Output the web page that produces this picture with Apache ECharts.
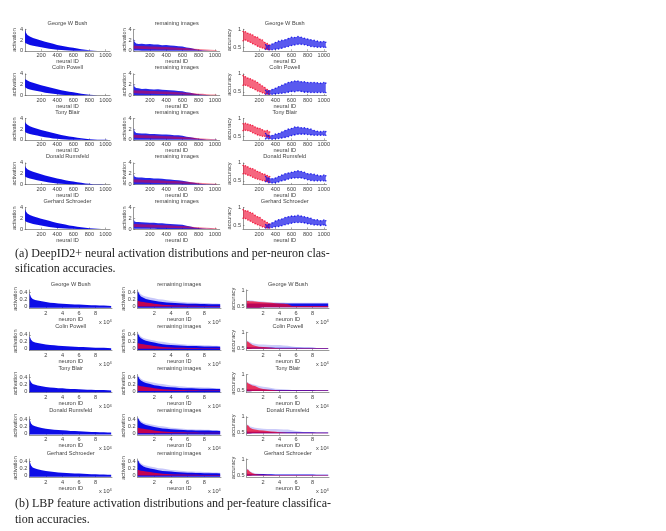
<!DOCTYPE html>
<html>
<head>
<meta charset="utf-8">
<style>
  html, body { margin: 0; padding: 0; background: #fff; }
  #main { width: 666px; height: 531px; }
</style>
<script src="https://cdn.jsdelivr.net/npm/echarts@6/dist/echarts.min.js"></script>
</head>
<body>
<div id="main"></div>
<script>
var people = ["George W Bush", "Colin Powell", "Tony Blair", "Donald Rumsfeld", "Gerhard Schroeder"];

// (a) DeepID2+, x samples in neural ID
var idsA = [1, 10, 30, 60, 100, 150, 200, 250, 300, 350, 400, 450, 500, 550, 600, 650, 700, 750, 800, 850, 900, 950, 1000, 1024];
var accRedIds = [1, 30, 60, 90, 120, 150, 180, 210, 240, 270, 300, 330];
var accBlueIds = [280, 320, 360, 400, 440, 480, 520, 560, 600, 640, 680, 720, 760, 800, 840, 880, 920, 960, 1000, 1024];

// column 1, activation of the person's own images
var actLo = [1.5, 1.4, 1.25, 1.1, 0.95, 0.8, 0.65, 0.5, 0.38, 0.28, 0.2, 0.13, 0.08, 0.05, 0.03, 0.02, 0.01, 0, 0, 0, 0, 0, 0, 0];
var actHiBush = [4, 3.4, 2.95, 2.65, 2.4, 2.15, 1.9, 1.7, 1.5, 1.3, 1.1, 0.95, 0.8, 0.66, 0.55, 0.42, 0.3, 0.2, 0.12, 0.06, 0.03, 0.02, 0.01, 0.01];
var actHiPowell = [3, 2.95, 2.75, 2.55, 2.35, 2.1, 1.9, 1.7, 1.52, 1.32, 1.12, 0.96, 0.82, 0.68, 0.56, 0.44, 0.32, 0.22, 0.13, 0.07, 0.03, 0.02, 0.01, 0.01];
var actHiBlair = [3.4, 3.1, 2.8, 2.55, 2.32, 2.08, 1.86, 1.66, 1.46, 1.27, 1.08, 0.92, 0.78, 0.64, 0.53, 0.41, 0.29, 0.2, 0.12, 0.06, 0.03, 0.02, 0.01, 0.01];
var actHiRumsfeld = [3.5, 3.15, 2.85, 2.6, 2.36, 2.12, 1.9, 1.68, 1.48, 1.3, 1.1, 0.95, 0.8, 0.66, 0.54, 0.42, 0.3, 0.2, 0.12, 0.06, 0.03, 0.02, 0.01, 0.01];
var actHiSchroeder = [3.7, 3.3, 2.9, 2.62, 2.38, 2.14, 1.92, 1.7, 1.52, 1.32, 1.12, 0.97, 0.82, 0.67, 0.56, 0.43, 0.31, 0.21, 0.13, 0.07, 0.03, 0.02, 0.01, 0.01];

// column 2, activation of the remaining images
var restLo = [0.05, 0.05, 0.04, 0.04, 0.03, 0.03, 0.03, 0.03, 0.02, 0.02, 0.02, 0.02, 0.02, 0.02, 0.01, 0.01, 0.01, 0.01, 0.01, 0, 0, 0, 0, 0];
var restRedLo = [0.42, 0.4, 0.38, 0.36, 0.34, 0.32, 0.3, 0.28, 0.26, 0.24, 0.22, 0.2, 0.18, 0.16, 0.14, 0.12, 0.1, 0.08, 0.06, 0.05, 0.03, 0.02, 0.01, 0.01];
var restRedHi = [0.95, 0.95, 0.92, 0.9, 0.88, 0.85, 0.82, 0.8, 0.76, 0.72, 0.7, 0.66, 0.62, 0.58, 0.54, 0.5, 0.44, 0.38, 0.32, 0.28, 0.22, 0.18, 0.14, 0.12];
var restHiBush = [2.3, 1.7, 1.35, 1.25, 1.3, 1.2, 1.25, 1.15, 1.15, 1.05, 1.08, 0.98, 0.95, 0.85, 0.8, 0.62, 0.5, 0.35, 0.2, 0.1, 0.05, 0.03, 0.02, 0.01];
var restHiPowell = [2.2, 1.6, 1.35, 1.3, 1.2, 1.25, 1.15, 1.1, 1.12, 1.02, 1, 0.95, 0.9, 0.82, 0.78, 0.6, 0.48, 0.32, 0.2, 0.1, 0.05, 0.03, 0.02, 0.01];
var restHiBlair = [2.2, 1.6, 1.3, 1.25, 1.2, 1.2, 1.12, 1.1, 1.05, 1.02, 1, 0.95, 0.88, 0.85, 0.75, 0.6, 0.48, 0.35, 0.2, 0.1, 0.05, 0.03, 0.02, 0.01];
var restHiRumsfeld = [1.9, 1.5, 1.35, 1.3, 1.3, 1.22, 1.2, 1.12, 1.1, 1.05, 0.98, 0.9, 0.85, 0.78, 0.7, 0.55, 0.42, 0.3, 0.18, 0.1, 0.05, 0.03, 0.02, 0.01];
var restHiSchroeder = [1.8, 1.4, 1.3, 1.28, 1.25, 1.2, 1.18, 1.15, 1.08, 1.05, 1, 0.95, 0.9, 0.85, 0.78, 0.6, 0.45, 0.3, 0.18, 0.1, 0.05, 0.03, 0.02, 0.01];

// column 3, per-neuron accuracy
var accRedHiBush = [0.94, 0.93, 0.89, 0.87, 0.84, 0.79, 0.78, 0.72, 0.7, 0.63, 0.6, 0.56];
var accRedLoBush = [0.68, 0.7, 0.67, 0.64, 0.6, 0.57, 0.53, 0.5, 0.48, 0.46, 0.44, 0.43];
var accBlueHiBush = [0.57, 0.55, 0.59, 0.63, 0.67, 0.69, 0.71, 0.74, 0.78, 0.77, 0.8, 0.78, 0.75, 0.73, 0.71, 0.69, 0.67, 0.65, 0.66, 0.64];
var accBlueLoBush = [0.44, 0.43, 0.43, 0.44, 0.45, 0.47, 0.5, 0.52, 0.55, 0.56, 0.58, 0.58, 0.57, 0.55, 0.52, 0.51, 0.5, 0.5, 0.5, 0.5];
var accRedHiPowell = [0.95, 0.92, 0.88, 0.86, 0.83, 0.8, 0.76, 0.71, 0.66, 0.62, 0.56, 0.52];
var accRedLoPowell = [0.68, 0.68, 0.66, 0.62, 0.6, 0.56, 0.52, 0.5, 0.47, 0.45, 0.44, 0.43];
var accBlueHiPowell = [0.54, 0.53, 0.56, 0.6, 0.64, 0.68, 0.72, 0.76, 0.78, 0.8, 0.8, 0.78, 0.78, 0.76, 0.76, 0.76, 0.75, 0.74, 0.76, 0.74];
var accBlueLoPowell = [0.43, 0.43, 0.43, 0.44, 0.45, 0.46, 0.47, 0.49, 0.51, 0.5, 0.52, 0.51, 0.49, 0.49, 0.48, 0.48, 0.48, 0.48, 0.48, 0.48];
var accRedHiBlair = [0.85, 0.86, 0.84, 0.82, 0.8, 0.76, 0.73, 0.72, 0.68, 0.65, 0.66, 0.62];
var accRedLoBlair = [0.66, 0.67, 0.66, 0.64, 0.6, 0.57, 0.54, 0.52, 0.5, 0.5, 0.49, 0.47];
var accBlueHiBlair = [0.58, 0.52, 0.52, 0.56, 0.58, 0.62, 0.66, 0.7, 0.72, 0.76, 0.76, 0.74, 0.74, 0.72, 0.7, 0.66, 0.64, 0.63, 0.64, 0.63];
var accBlueLoBlair = [0.43, 0.43, 0.42, 0.43, 0.44, 0.45, 0.47, 0.49, 0.52, 0.54, 0.56, 0.56, 0.56, 0.55, 0.54, 0.53, 0.53, 0.53, 0.53, 0.53];
var accRedHiRumsfeld = [0.93, 0.92, 0.89, 0.85, 0.84, 0.8, 0.76, 0.74, 0.7, 0.68, 0.65, 0.62];
var accRedLoRumsfeld = [0.7, 0.69, 0.66, 0.64, 0.6, 0.57, 0.55, 0.53, 0.51, 0.5, 0.48, 0.47];
var accBlueHiRumsfeld = [0.62, 0.58, 0.56, 0.58, 0.62, 0.66, 0.7, 0.72, 0.74, 0.76, 0.78, 0.76, 0.74, 0.7, 0.7, 0.68, 0.66, 0.64, 0.66, 0.64];
var accBlueLoRumsfeld = [0.48, 0.45, 0.44, 0.45, 0.47, 0.5, 0.52, 0.55, 0.57, 0.58, 0.58, 0.58, 0.56, 0.53, 0.51, 0.5, 0.5, 0.5, 0.5, 0.5];
var accRedHiSchroeder = [0.94, 0.91, 0.9, 0.86, 0.84, 0.78, 0.74, 0.72, 0.66, 0.62, 0.58, 0.54];
var accRedLoSchroeder = [0.7, 0.69, 0.65, 0.62, 0.58, 0.55, 0.52, 0.49, 0.46, 0.45, 0.43, 0.43];
var accBlueHiSchroeder = [0.52, 0.53, 0.57, 0.62, 0.66, 0.68, 0.72, 0.74, 0.76, 0.76, 0.78, 0.76, 0.74, 0.72, 0.7, 0.66, 0.66, 0.63, 0.65, 0.63];
var accBlueLoSchroeder = [0.43, 0.43, 0.44, 0.46, 0.47, 0.49, 0.52, 0.54, 0.56, 0.58, 0.58, 0.58, 0.57, 0.55, 0.53, 0.51, 0.51, 0.5, 0.51, 0.5];

// (b) LBP, x samples in units of 10^4
var idsB = [0.02, 0.1, 0.2, 0.4, 0.7, 1, 1.5, 2, 2.5, 3, 3.5, 4, 4.5, 5, 5.5, 6, 6.5, 7, 7.5, 8, 8.5, 9, 9.5, 9.9];
var lbpLo = [-0.03, -0.03, -0.03, -0.03, -0.03, -0.03, -0.03, -0.03, -0.03, -0.03, -0.03, -0.03, -0.03, -0.03, -0.03, -0.03, -0.03, -0.03, -0.03, -0.03, -0.03, -0.03, -0.03, -0.03];
var lbpHiBush = [0.38, 0.33, 0.27, 0.22, 0.19, 0.175, 0.15, 0.13, 0.11, 0.105, 0.09, 0.085, 0.075, 0.07, 0.06, 0.058, 0.05, 0.048, 0.04, 0.038, 0.032, 0.03, 0.025, 0.02];
var lbpHiPowell = [0.36, 0.32, 0.26, 0.21, 0.185, 0.17, 0.145, 0.125, 0.11, 0.1, 0.09, 0.08, 0.072, 0.065, 0.06, 0.055, 0.05, 0.045, 0.04, 0.035, 0.03, 0.028, 0.024, 0.02];
var lbpHiBlair = [0.34, 0.3, 0.25, 0.2, 0.18, 0.16, 0.14, 0.12, 0.105, 0.095, 0.085, 0.08, 0.07, 0.062, 0.058, 0.052, 0.048, 0.042, 0.038, 0.034, 0.03, 0.028, 0.024, 0.02];
var lbpHiRumsfeld = [0.4, 0.35, 0.28, 0.23, 0.2, 0.18, 0.15, 0.135, 0.12, 0.105, 0.095, 0.088, 0.08, 0.07, 0.065, 0.06, 0.052, 0.048, 0.042, 0.038, 0.034, 0.03, 0.026, 0.022];
var lbpHiSchroeder = [0.42, 0.36, 0.29, 0.23, 0.2, 0.18, 0.15, 0.13, 0.115, 0.105, 0.09, 0.085, 0.078, 0.07, 0.062, 0.058, 0.052, 0.048, 0.042, 0.036, 0.032, 0.03, 0.026, 0.022];

var lbpRestRedLo = [0, 0, 0, 0, 0, 0, 0, 0, 0, 0, 0, 0, 0.002, 0.002, 0.002, 0.002, 0.002, 0.002, 0.002, 0.002, 0.002, 0.002, 0.002, 0.002];
var lbpRestRedHi = [0.16, 0.16, 0.15, 0.14, 0.13, 0.12, 0.1, 0.08, 0.065, 0.055, 0.045, 0.04, 0.035, 0.03, 0.028, 0.026, 0.024, 0.022, 0.02, 0.02, 0.018, 0.018, 0.016, 0.016];
var lbpRestHiBush = [0.42, 0.4, 0.35, 0.29, 0.25, 0.22, 0.19, 0.17, 0.145, 0.13, 0.12, 0.11, 0.1, 0.095, 0.09, 0.085, 0.08, 0.08, 0.075, 0.075, 0.07, 0.07, 0.065, 0.065];
var lbpRestHiPowell = [0.43, 0.4, 0.35, 0.3, 0.26, 0.23, 0.2, 0.18, 0.15, 0.135, 0.12, 0.11, 0.1, 0.095, 0.09, 0.085, 0.08, 0.08, 0.075, 0.07, 0.07, 0.065, 0.065, 0.06];
var lbpRestHiBlair = [0.42, 0.4, 0.35, 0.3, 0.26, 0.23, 0.2, 0.17, 0.15, 0.13, 0.12, 0.11, 0.1, 0.09, 0.085, 0.08, 0.08, 0.075, 0.07, 0.07, 0.065, 0.065, 0.06, 0.06];
var lbpRestHiRumsfeld = [0.44, 0.42, 0.37, 0.31, 0.27, 0.24, 0.21, 0.18, 0.16, 0.14, 0.13, 0.12, 0.11, 0.1, 0.095, 0.09, 0.09, 0.085, 0.085, 0.08, 0.08, 0.075, 0.075, 0.07];
var lbpRestHiSchroeder = [0.44, 0.42, 0.36, 0.31, 0.26, 0.23, 0.2, 0.18, 0.155, 0.135, 0.125, 0.115, 0.1, 0.095, 0.09, 0.085, 0.08, 0.075, 0.075, 0.07, 0.07, 0.065, 0.065, 0.06];
var lbpRestPale = [0.46, 0.44, 0.4, 0.35, 0.31, 0.29, 0.26, 0.24, 0.21, 0.2, 0.18, 0.16, 0.15, 0.14, 0.13, 0.12, 0.12, 0.11, 0.11, 0.1, 0.1, 0.09, 0.09, 0.08];

var lbpAccLoBush = [0.45, 0.45, 0.45, 0.45, 0.45, 0.45, 0.45, 0.46, 0.46, 0.46, 0.46, 0.46, 0.46, 0.46, 0.46, 0.46, 0.46, 0.46, 0.46, 0.46, 0.46, 0.46, 0.46, 0.46];
var lbpAccLo = [0.48, 0.48, 0.48, 0.48, 0.49, 0.49, 0.49, 0.49, 0.49, 0.49, 0.49, 0.49, 0.49, 0.49, 0.49, 0.49, 0.49, 0.49, 0.49, 0.49, 0.49, 0.49, 0.49, 0.49];
var lbpAccBlueHiBush = [0.58, 0.58, 0.58, 0.58, 0.58, 0.58, 0.58, 0.58, 0.58, 0.58, 0.58, 0.58, 0.58, 0.58, 0.58, 0.58, 0.58, 0.58, 0.58, 0.58, 0.58, 0.58, 0.58, 0.58];
var lbpAccBlueHi = [0.54, 0.54, 0.53, 0.53, 0.53, 0.53, 0.53, 0.53, 0.525, 0.525, 0.52, 0.52, 0.52, 0.52, 0.515, 0.515, 0.515, 0.515, 0.515, 0.515, 0.51, 0.51, 0.51, 0.51];
var lbpAccRedHiBush = [0.66, 0.66, 0.66, 0.65, 0.65, 0.64, 0.63, 0.62, 0.61, 0.6, 0.59, 0.58, 0.57, 0.56, 0.5, 0.5, 0.5, 0.5, 0.5, 0.5, 0.5, 0.5, 0.5, 0.5];
var lbpAccRedHiPowell = [0.7, 0.72, 0.7, 0.66, 0.6, 0.58, 0.55, 0.54, 0.53, 0.52, 0.51, 0.5, 0.5, 0.5, 0.5, 0.5, 0.5, 0.5, 0.5, 0.5, 0.5, 0.5, 0.5, 0.5];
var lbpAccRedHiBlair = [0.74, 0.75, 0.72, 0.7, 0.66, 0.64, 0.58, 0.55, 0.53, 0.52, 0.51, 0.5, 0.5, 0.5, 0.5, 0.5, 0.5, 0.5, 0.5, 0.5, 0.5, 0.5, 0.5, 0.5];
var lbpAccRedHiRumsfeld = [0.72, 0.74, 0.72, 0.66, 0.62, 0.6, 0.58, 0.57, 0.56, 0.54, 0.53, 0.52, 0.51, 0.5, 0.5, 0.5, 0.5, 0.5, 0.5, 0.5, 0.5, 0.5, 0.5, 0.5];
var lbpAccRedHiSchroeder = [0.66, 0.68, 0.66, 0.6, 0.56, 0.53, 0.52, 0.51, 0.51, 0.5, 0.5, 0.5, 0.5, 0.5, 0.5, 0.5, 0.5, 0.5, 0.5, 0.5, 0.5, 0.5, 0.5, 0.5];
var lbpAccPaleBush = [0.68, 0.68, 0.68, 0.68, 0.67, 0.66, 0.65, 0.64, 0.63, 0.62, 0.62, 0.61, 0.61, 0.6, 0.6, 0.6, 0.6, 0.6, 0.6, 0.6, 0.6, 0.6, 0.6, 0.6];
var lbpAccPalePowell = [0.72, 0.74, 0.72, 0.7, 0.66, 0.64, 0.62, 0.62, 0.61, 0.6, 0.6, 0.6, 0.59, 0.58, 0.56, 0.54, 0.53, 0.52, 0.52, 0.51, 0.51, 0.51, 0.51, 0.51];
var lbpAccPaleBlair = [0.76, 0.76, 0.74, 0.72, 0.7, 0.68, 0.64, 0.62, 0.6, 0.58, 0.56, 0.55, 0.54, 0.53, 0.52, 0.52, 0.51, 0.51, 0.51, 0.51, 0.51, 0.51, 0.51, 0.51];
var lbpAccPaleRumsfeld = [0.74, 0.76, 0.74, 0.7, 0.68, 0.66, 0.64, 0.63, 0.62, 0.62, 0.62, 0.61, 0.6, 0.6, 0.58, 0.56, 0.54, 0.52, 0.52, 0.51, 0.51, 0.51, 0.51, 0.51];
var lbpAccPaleSchroeder = [0.68, 0.7, 0.68, 0.62, 0.58, 0.56, 0.54, 0.53, 0.52, 0.52, 0.51, 0.51, 0.51, 0.51, 0.51, 0.51, 0.51, 0.51, 0.51, 0.51, 0.51, 0.51, 0.51, 0.51];

var actHi = [actHiBush, actHiPowell, actHiBlair, actHiRumsfeld, actHiSchroeder];
var restHi = [restHiBush, restHiPowell, restHiBlair, restHiRumsfeld, restHiSchroeder];
var accRedHi = [accRedHiBush, accRedHiPowell, accRedHiBlair, accRedHiRumsfeld, accRedHiSchroeder];
var accRedLo = [accRedLoBush, accRedLoPowell, accRedLoBlair, accRedLoRumsfeld, accRedLoSchroeder];
var accBlueHi = [accBlueHiBush, accBlueHiPowell, accBlueHiBlair, accBlueHiRumsfeld, accBlueHiSchroeder];
var accBlueLo = [accBlueLoBush, accBlueLoPowell, accBlueLoBlair, accBlueLoRumsfeld, accBlueLoSchroeder];
var lbpHi = [lbpHiBush, lbpHiPowell, lbpHiBlair, lbpHiRumsfeld, lbpHiSchroeder];
var lbpRestHi = [lbpRestHiBush, lbpRestHiPowell, lbpRestHiBlair, lbpRestHiRumsfeld, lbpRestHiSchroeder];
var lbpAccRedHi = [lbpAccRedHiBush, lbpAccRedHiPowell, lbpAccRedHiBlair, lbpAccRedHiRumsfeld, lbpAccRedHiSchroeder];
var lbpAccPale = [lbpAccPaleBush, lbpAccPalePowell, lbpAccPaleBlair, lbpAccPaleRumsfeld, lbpAccPaleSchroeder];

var BLUE = "#0000e6";
var RED = "#f0002a";
var GREY = "#444";
var SMALL = 5.6;

var grids = [], xAxes = [], yAxes = [], series = [];
var titles = [];

// one filled band between lo and hi, drawn through the grid's own scales
function band(g, xs, lo, hi, color, opacity) {
  series.push({
    type: "custom",
    xAxisIndex: g,
    yAxisIndex: g,
    silent: true,
    data: [[xs[0], lo[0]]],
    encode: { x: 0, y: 1 },
    renderItem: function (params, api) {
      var pts = [];
      for (var i = 0; i < xs.length; i++) pts.push(api.coord([xs[i], hi[i]]));
      for (var j = xs.length - 1; j >= 0; j--) pts.push(api.coord([xs[j], lo[j]]));
      return {
        type: "polygon",
        shape: { points: pts },
        style: { fill: color, opacity: opacity }
      };
    }
  });
}

// dots on the band edges, the accuracy plots are clouds rather than solid fills
function edgeDots(g, xs, lo, hi, color) {
  var pts = [];
  xs.forEach(function (x, i) {
    pts.push([x, hi[i]]);
    pts.push([x, lo[i]]);
  });
  series.push({
    type: "scatter", xAxisIndex: g, yAxisIndex: g, silent: true,
    symbolSize: 1.6, data: pts, itemStyle: { color: color, opacity: 0.8 }
  });
}

function plain(v) { return String(v); }

function addPanel(o) {
  var g = grids.length;
  var smallText = { fontSize: SMALL, color: GREY, fontFamily: "Liberation Sans" };
  grids.push({ left: o.left, top: o.top, width: o.width, height: o.height });
  xAxes.push({
    gridIndex: g, type: "value", min: o.xMin, max: o.xMax,
    name: o.xName, nameLocation: "middle", nameGap: o.xNameGap, nameMoveOverlap: false,
    nameTextStyle: smallText,
    axisLine: { show: true, onZero: false, lineStyle: { color: "#555", width: 0.6 } },
    axisTick: { show: true, inside: true, length: 1.5, customValues: o.xTicks, lineStyle: { color: "#555", width: 0.5 } },
    axisLabel: { show: true, fontSize: SMALL, color: GREY, margin: 2, fontFamily: "Liberation Sans", customValues: o.xTicks, hideOverlap: false, formatter: plain },
    splitLine: { show: false }
  });
  yAxes.push({
    gridIndex: g, type: "value", min: o.yMin, max: o.yMax,
    name: o.yName, nameLocation: "middle", nameGap: o.yNameGap, nameMoveOverlap: false,
    nameTextStyle: smallText,
    axisLine: { show: true, onZero: false, lineStyle: { color: "#555", width: 0.6 } },
    axisTick: { show: true, inside: true, length: 1.5, customValues: o.yTicks, lineStyle: { color: "#555", width: 0.5 } },
    axisLabel: { show: true, fontSize: SMALL, color: GREY, margin: 2, fontFamily: "Liberation Sans", customValues: o.yTicks, hideOverlap: false, formatter: plain },
    splitLine: { show: false }
  });
  titles.push({
    text: o.title, left: o.left + o.width / 2, top: o.top - 9, textAlign: "center", padding: 0,
    textStyle: { fontSize: SMALL, fontWeight: "normal", color: GREY, fontFamily: "Liberation Sans" }
  });
  if (o.exponent) {
    titles.push({
      text: "x 10{s|4}", left: o.left + o.width - 13, top: o.top + o.height + 11, padding: 0,
      textStyle: {
        fontSize: SMALL, fontWeight: "normal", color: GREY, fontFamily: "Liberation Sans",
        rich: { s: { fontSize: 4, color: GREY, verticalAlign: "top", lineHeight: 5, fontFamily: "Liberation Sans" } }
      }
    });
  }
  return g;
}

var ticksA = [200, 400, 600, 800, 1000];
var ticksB = [2, 4, 6, 8];

people.forEach(function (name, r) {
  var top = 29.3 + 44.55 * r;
  var a = { top: top, height: 21.5, xName: "neural ID", xNameGap: 8, xTicks: ticksA, xMin: 0 };

  var g = addPanel(Object.assign({}, a, { left: 25, width: 85, xMax: 1056, yMin: 0, yMax: 4, yTicks: [0, 2, 4], yName: "activation", yNameGap: 7.5, title: name }));
  band(g, idsA, actLo, actHi[r], BLUE, 0.95);

  g = addPanel(Object.assign({}, a, { left: 133.7, width: 86, xMax: 1059, yMin: 0, yMax: 4, yTicks: [0, 2, 4], yName: "activation", yNameGap: 6.5, title: "remaining images" }));
  band(g, idsA, restLo, restHi[r], BLUE, 0.85);
  band(g, idsA, restRedLo, restRedHi, RED, 0.5);

  g = addPanel(Object.assign({}, a, { left: 243, width: 83.5, xMax: 1033, yMin: 0.4, yMax: 1, yTicks: [0.5, 1], yName: "accuracy", yNameGap: 11, title: name }));
  band(g, accRedIds, accRedLo[r], accRedHi[r], RED, 0.6);
  band(g, accBlueIds, accBlueLo[r], accBlueHi[r], BLUE, 0.65);
  edgeDots(g, accRedIds, accRedLo[r], accRedHi[r], RED);
  edgeDots(g, accBlueIds, accBlueLo[r], accBlueHi[r], BLUE);

  var topB = 290 + 42.25 * r;
  var b = { top: topB, height: 18, xName: "neuron ID", xNameGap: 8, xTicks: ticksB, xMin: 0, xMax: 10, exponent: true };

  g = addPanel(Object.assign({}, b, { left: 29.4, width: 82.6, yMin: -0.04, yMax: 0.475, yTicks: [0, 0.2, 0.4], yName: "activation", yNameGap: 11, title: name }));
  band(g, idsB, lbpLo, lbpHi[r], BLUE, 0.95);

  g = addPanel(Object.assign({}, b, { left: 137.6, width: 83.4, yMin: -0.04, yMax: 0.475, yTicks: [0, 0.2, 0.4], yName: "activation", yNameGap: 11, title: "remaining images" }));
  band(g, idsB, lbpLo, lbpRestPale, "#8f8ff5", 0.5);
  band(g, idsB, lbpLo, lbpRestHi[r], BLUE, 0.95);
  band(g, idsB, lbpRestRedLo, lbpRestRedHi, RED, 0.8);

  g = addPanel(Object.assign({}, b, { left: 246.7, width: 82.3, yMin: 0.44, yMax: 1, yTicks: [0.5, 1], yName: "accuracy", yNameGap: 10.5, title: name }));
  var lo = r === 0 ? lbpAccLoBush : lbpAccLo;
  band(g, idsB, lo, lbpAccPale[r], "#a9a9f5", 0.6);
  band(g, idsB, lo, r === 0 ? lbpAccBlueHiBush : lbpAccBlueHi, BLUE, 0.9);
  band(g, idsB, lo, lbpAccRedHi[r], RED, 0.75);
});

var captions = [
  ["(a) DeepID2+ neural activation distributions and per-neuron clas-", 248],
  ["sification accuracies.", 263],
  ["(b) LBP feature activation distributions and per-feature classifica-", 498],
  ["tion accuracies.", 514]
];
captions.forEach(function (c) {
  titles.push({
    text: c[0], left: 15, top: c[1], padding: 0,
    textStyle: { fontSize: 12, fontWeight: "normal", color: "#222", fontFamily: "Liberation Serif" }
  });
});

var chart = echarts.init(document.getElementById("main"), null, { renderer: "canvas" });
chart.setOption({
  animation: false,
  backgroundColor: "#fff",
  title: titles,
  grid: grids,
  xAxis: xAxes,
  yAxis: yAxes,
  series: series
});
</script>
</body>
</html>
